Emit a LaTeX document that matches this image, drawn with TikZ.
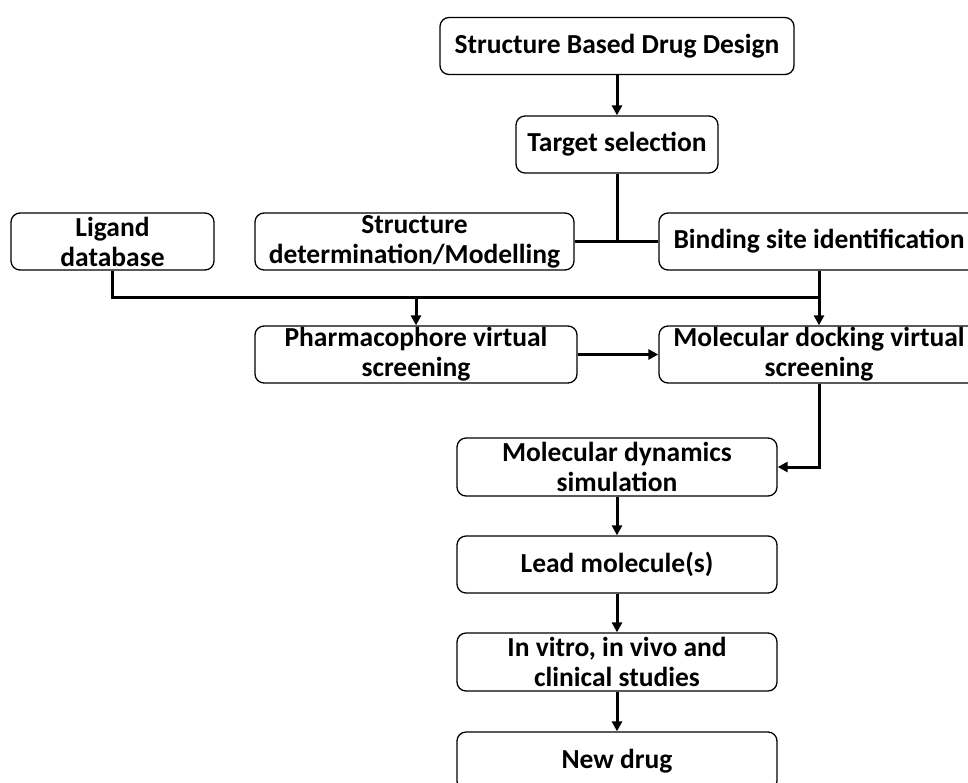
\documentclass[tikz,border=0pt]{standalone}
\usepackage{fontspec}
\setmainfont{Carlito}
\usetikzlibrary{arrows.meta}
\tikzset{
  box/.style={draw=black, line width=1.3pt, rounded corners=9pt, align=center,
    inner sep=0pt, minimum height=57pt,
    font=\fontsize{27.5}{30}\selectfont\bfseries},
  conn/.style={line width=3pt},
  arr/.style={line width=3pt, -{Triangle[length=10pt,width=10pt]}},
}
\begin{document}
\begin{tikzpicture}[x=1pt,y=-1pt]
\useasboundingbox (0,0) rectangle (968,782);
\clip (0,0) rectangle (968,782);
\node[box, minimum width=354pt] (sbdd) at (617,46) {Structure Based Drug Design};
\node[box, minimum width=202pt] (target) at (617,144.5) {Target selection};
\node[box, minimum width=203pt] (lig) at (112.5,241.5) {Ligand\\database};
\node[box, minimum width=319pt] (str) at (414.5,241.5) {Structure\\determination/Modelling};
\node[box, minimum width=320pt] (bind) at (819,241.5) {Binding site identification};
\node[box, minimum width=322pt] (pharm) at (416,354.5) {Pharmacophore virtual\\screening};
\node[box, minimum width=320pt] (dock) at (819,354.5) {Molecular docking virtual\\screening};
\node[box, minimum width=320pt, minimum height=58pt] (md) at (617,467) {Molecular dynamics\\simulation};
\node[box, minimum width=320pt] (lead) at (617,564.5) {Lead molecule(s)};
\node[box, minimum width=320pt, minimum height=58pt] (vitro) at (617,662) {In vitro, in vivo and\\clinical studies};
\node[box, minimum width=320pt, minimum height=58pt] (nd) at (617,761) {New drug};

\coordinate (j1) at (617,241.5);
\coordinate (hl) at (112.5,297);
\coordinate (hr) at (819,297);
\coordinate (hp) at (416,297);

\draw[arr] (sbdd) -- (target);
\draw[conn] (target.south) -- (j1);
\draw[conn] (str.east) -- (bind.west);
\draw[conn] (lig.south) -- (hl) -- (hr);
\draw[conn] (bind.south) -- (hr);
\draw[arr] (hp) -- (pharm.north);
\draw[arr] (hr) -- (dock.north);
\draw[arr] (pharm.east) -- (dock.west);
\draw[arr] (dock.south) |- (md.east);
\draw[arr] (md) -- (lead);
\draw[arr] (lead) -- (vitro);
\draw[arr] (vitro) -- (nd);
\end{tikzpicture}
\end{document}
